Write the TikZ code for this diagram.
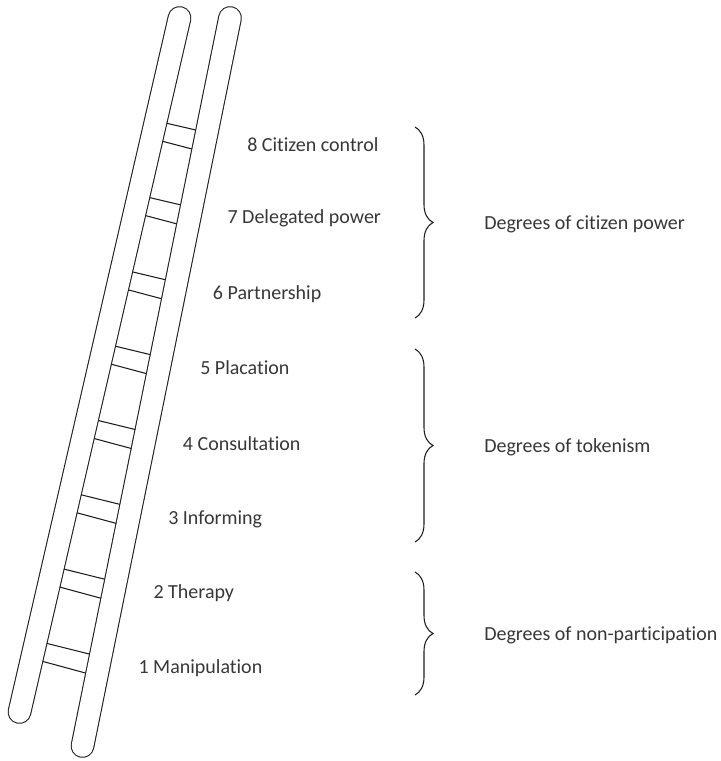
\documentclass[tikz,border=0pt]{standalone}
\usepackage{fontspec}
\setmainfont{Carlito}[Ligatures=NoCommon]
\usetikzlibrary{calc,decorations.pathreplacing}
\definecolor{cInk}{RGB}{30,30,30}
\definecolor{cText}{RGB}{55,55,55}
\tikzset{
	railout/.style={line width=17.8pt, line cap=round, draw=cInk},
	railin/.style={line width=16.2pt, line cap=round, draw=white},
	rung/.style={line width=0.8pt, draw=cInk},
	steplabel/.style={anchor=base west, inner sep=0pt,
		font=\fontsize{15}{17}\selectfont, text=cText},
	deglabel/.style={anchor=base west, inner sep=0pt,
		font=\fontsize{15}{17}\selectfont, text=cText},
	degbrace/.style={decorate, decoration={brace, amplitude=13.5pt},
		line width=0.8pt, draw=cInk},
}
\begin{document}
\begin{tikzpicture}[x=0.75pt,y=-0.75pt]
	\useasboundingbox (0,0) rectangle (721,761);
	% the two rails
	\coordinate (lt) at (179.5,18);
	\coordinate (lb) at (19.5,712);
	\coordinate (rt) at (230,18);
	\coordinate (rb) at (82.5,746);
	\foreach \a/\b in {lt/lb,rt/rb}{
		\draw[railout] (\a) -- (\b);
		\draw[railin] (\a) -- (\b);
	}
	% inner edges, rungs go between them
	\coordinate (li1) at (190.5,20.5);
	\coordinate (li2) at (30.5,714.5);
	\coordinate (ri1) at (218.9,15.8);
	\coordinate (ri2) at (71.4,743.8);
	\foreach \i in {0,...,7}{
		\foreach \d/\e in {0/0,18/19}{
			\pgfmathsetmacro{\tl}{(123.3+74.3*\i+\d-20.5)/694}
			\pgfmathsetmacro{\tr}{(130+74.87*\i+\e-15.8)/728}
			\draw[rung] ($(li1)!\tl!(li2)$) -- ($(ri1)!\tr!(ri2)$);
		}
	}
	% rung labels
	\node[steplabel] (s8) at (247,151) {8 Citizen control};
	\node[steplabel] (s7) at (227.3,223.5) {7 Delegated power};
	\node[steplabel] (s6) at (212.7,299.5) {6 Partnership};
	\node[steplabel] (s5) at (200,374) {5 Placation};
	\node[steplabel] (s4) at (182.7,450) {4 Consultation};
	\node[steplabel] (s3) at (168,524) {3 Informing};
	\node[steplabel] (s2) at (153.3,598.5) {2 Therapy};
	\node[steplabel] (s1) at (138.3,673.5) {1 Manipulation};
	% braces and groups
	\draw[degbrace] (415,127) -- (415,318);
	\draw[degbrace] (415,349) -- (415,542);
	\draw[degbrace] (415,572) -- (415,695);
	\node[deglabel] (gpower) at (484,229) {Degrees of citizen power};
	\node[deglabel] (gtoken) at (484,452) {Degrees of tokenism};
	\node[deglabel] (gnon) at (484,640) {Degrees of non-participation};
\end{tikzpicture}
\end{document}
